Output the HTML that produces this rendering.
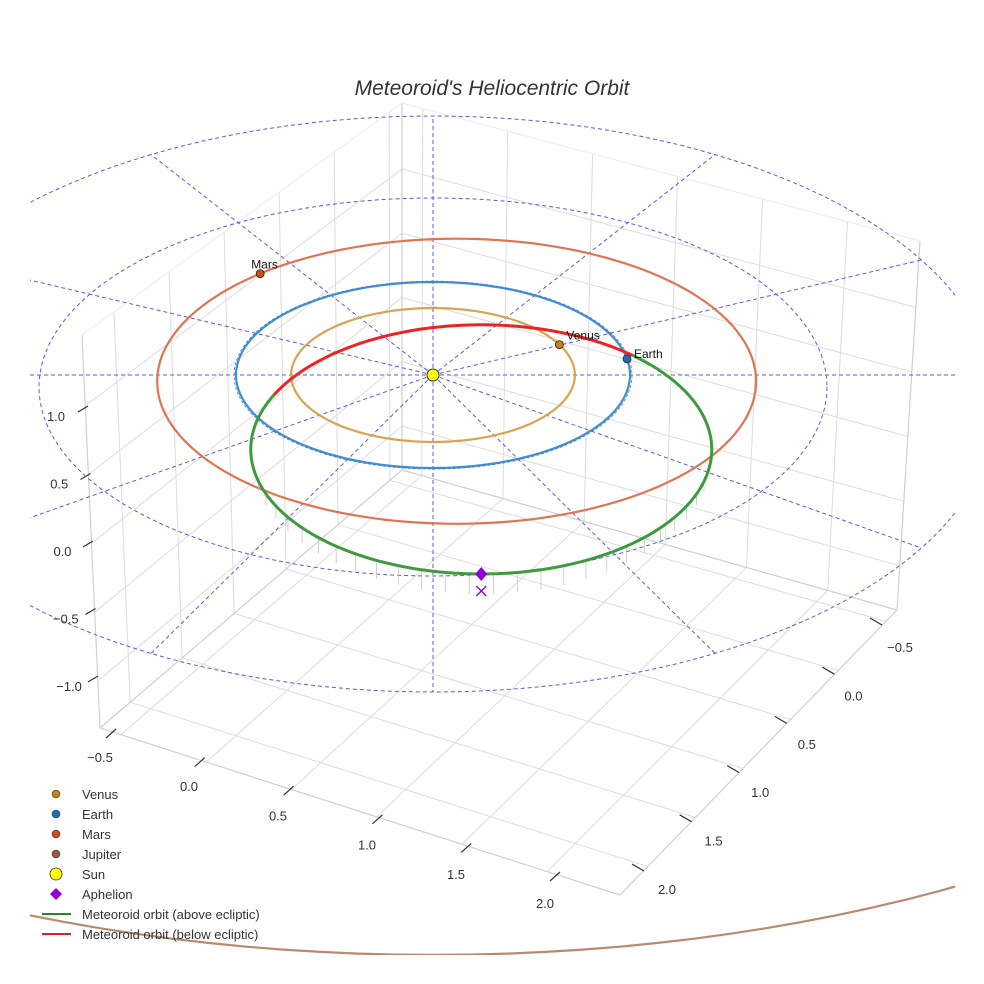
<!DOCTYPE html>
<html><head><meta charset="utf-8"><style>
html,body{margin:0;padding:0;background:#fff;}
svg{display:block;font-family:"Liberation Sans",sans-serif;}
</style></head><body>
<svg id="chart" width="984" height="984" viewBox="0 0 984 984">
<defs><clipPath id="clip"><rect x="30" y="0" width="925" height="955"/></clipPath></defs>
<text x="492" y="95" text-anchor="middle" font-size="21" font-style="italic" fill="#333">Meteoroid's Heliocentric Orbit</text>
<g id="box"></g>
<g id="ecl" clip-path="url(#clip)"></g>
<g id="orbits" clip-path="url(#clip)"></g>
<g id="marks"></g>
<g id="legend"></g>
</svg>
<script>
// ---- data ----
const xTicks = [-0.5, 0.0, 0.5, 1.0, 1.5, 2.0];
const yTicks = [-0.5, 0.0, 0.5, 1.0, 1.5, 2.0];
const zTicks = [-1.0, -0.5, 0.0, 0.5, 1.0];
const planetNames = ["Venus", "Earth", "Mars", "Jupiter"];
const planetRadiiAU = [0.72, 1.0, 1.52, 5.2];
const planetCenterShiftAU = [0, 0, 0.12, 0];
const planetAnglesDeg = [-27, -10, 229, 0];
const planetColors = ["#c9801a", "#1f6fb0", "#cc4a1c", "#9a5a3a"];
const orbitColors = ["#d6a552", "#3f8fd0", "#e07452", "#bb8a6e"];
const gridRadiiAU = [2, 3];
const radialAnglesDeg = [0, 30, 60, 90, 120, 150, 180, 210, 240, 270, 300, 330];
const meteorCenterAU = [0.245, 0.8];
const meteorAxesAU = [1.17, 1.34];
const belowRangeDeg = [206, 311];
const aphelionDeg = 90;

const NS = "http://www.w3.org/2000/svg";
function mk(parent, tag, attrs) { const e = document.createElementNS(NS, tag); for (const k in attrs) e.setAttribute(k, attrs[k]); parent.appendChild(e); return e; }
const box = document.getElementById('box'), ecl = document.getElementById('ecl'), orb = document.getElementById('orbits'), marks = document.getElementById('marks'), leg = document.getElementById('legend');

// ---- box / panes ----
function bil(c00, c10, c01, c11, u, v) {
  const a = [c00[0] + (c10[0] - c00[0]) * u, c00[1] + (c10[1] - c00[1]) * u];
  const b = [c01[0] + (c11[0] - c01[0]) * u, c01[1] + (c11[1] - c01[1]) * u];
  return [a[0] + (b[0] - a[0]) * v, a[1] + (b[1] - a[1]) * v];
}
const L = [100, 728], F = [620, 895], R = [897, 610], B = [402, 470];
const Lt = [82, 335], Bt = [402, 103], Rt = [920, 241];
const fx = x => 0.04 + (x + 0.5) / 0.5 * 0.164;
const fy = y => 0.1 + (2 - y) / 0.5 * 0.172;
const fz = z => 0.12 + (z + 1) / 0.5 * 0.175;
function line(p, q, col, w, name) {
  const l = mk(box, 'line', { x1: p[0], y1: p[1], x2: q[0], y2: q[1], stroke: col, 'stroke-width': w });
  
  
}
xTicks.forEach(x => { const u = fx(x); line(bil(L, F, B, R, u, 0), bil(L, F, B, R, u, 1), '#dcdcdc', 1, 'floor-grid-x'); });
yTicks.forEach(y => { const v = fy(y); line(bil(L, F, B, R, 0, v), bil(L, F, B, R, 1, v), '#dcdcdc', 1, 'floor-grid-y'); });
xTicks.forEach(x => { const u = fx(x); line(bil(B, R, Bt, Rt, u, 0), bil(B, R, Bt, Rt, u, 1), '#dcdcdc', 1, 'wall-grid-x'); });
zTicks.forEach(z => { const w = fz(z); line(bil(B, R, Bt, Rt, 0, w), bil(B, R, Bt, Rt, 1, w), '#dcdcdc', 1, 'wall-grid-z'); });
yTicks.forEach(y => { const v = 1 - fy(y); line(bil(L, B, Lt, Bt, 1 - v, 0), bil(L, B, Lt, Bt, 1 - v, 1), '#dcdcdc', 1, 'wall-grid-y'); });
zTicks.forEach(z => { const w = fz(z); line(bil(L, B, Lt, Bt, 0, w), bil(L, B, Lt, Bt, 1, w), '#dcdcdc', 1, 'wall-grid-z'); });
[[L, F], [F, R], [L, B], [B, R], [L, Lt], [B, Bt], [R, Rt]].forEach(e => line(e[0], e[1], '#cfcfcf', 1.2, 'box-edge'));
[[Lt, Bt], [Bt, Rt]].forEach(e => line(e[0], e[1], '#ececec', 1, 'box-top-edge'));

// ---- tick labels ----
function lerp(p, q, t) { return [p[0] + (q[0] - p[0]) * t, p[1] + (q[1] - p[1]) * t]; }
function tickLabel(pos, txt, name) {
  const t = mk(box, 'text', { x: pos[0], y: pos[1] + 5, 'text-anchor': 'middle', 'font-size': 13, fill: '#333' });
  t.textContent = txt.replace('-', '\u2212');
  
  
}
xTicks.forEach(x => { const t = (x + 0.5) / 2.5; const p = lerp([100, 757], [545, 903], t); tickLabel(p, x.toFixed(1), 'x-tick-label');
  const m = lerp([112, 733], [556, 876], t); line([m[0] - 6, m[1] + 5], [m[0] + 4, m[1] - 4], '#333', 1.2, 'x-tick-mark'); });
yTicks.forEach(y => { const t = (2 - y) / 2.5; const p = lerp([667, 889], [900, 647], t); tickLabel(p, y.toFixed(1), 'y-tick-label');
  const m = lerp([640, 868], [878, 622], t); line([m[0] - 8, m[1] - 4], [m[0] + 4, m[1] + 3], '#333', 1.2, 'y-tick-mark'); });
zTicks.forEach(z => { const t = (z + 1) / 2; const p = lerp([69, 686], [56, 416], t); tickLabel(p, z.toFixed(1), 'z-tick-label');
  const m = lerp([92, 679], [82, 409], t); line([m[0] - 4, m[1] + 3], [m[0] + 6, m[1] - 3], '#333', 1.2, 'z-tick-mark'); });

// ---- ecliptic projection ----
const SX = 433, SY = 375;
// calibration: [radius, px per AU x, px per AU y, centre y shift px]
const calib = [[0, 197, 93, 0], [1, 197, 93, 0], [2, 197, 94.5, 12], [3, 188, 96, 29], [5.2, 207, 104.6, 36]];
function proj(r, deg, shift) {
  let c = calib[calib.length - 1];
  for (let i = 0; i < calib.length - 1; i++) { const a = calib[i], b = calib[i + 1];
    if (r >= a[0] && r <= b[0]) { const t = (r - a[0]) / (b[0] - a[0]); c = a.map((v, k) => v + (b[k] - v) * t); break; } }
  const th = deg * Math.PI / 180;
  return [SX + c[1] * ((shift || 0) + r * Math.cos(th)), SY + c[3] + c[2] * r * Math.sin(th)];
}
function circlePath(r, shift) { let d = ''; for (let a = 0; a <= 360; a += 2) { const p = proj(r, a, shift); d += (a ? 'L' : 'M') + p[0].toFixed(1) + ',' + p[1].toFixed(1); } return d; }
gridRadiiAU.forEach(r => { const p = mk(ecl, 'path', { d: circlePath(r), fill: 'none', stroke: '#5a5ae0', 'stroke-width': 1, 'stroke-dasharray': '4,3' });
    });
radialAnglesDeg.forEach(a => { const rr = gridRadiiAU[gridRadiiAU.length - 1] * (a % 180 === 0 ? 1.7 : 1); const q = proj(rr, a);
  const q2 = a % 180 === 0 ? [q[0], SY] : q;
  const l = mk(ecl, 'line', { x1: SX, y1: SY, x2: q2[0], y2: q2[1], stroke: '#5a5ae0', 'stroke-width': 1, 'stroke-dasharray': '4,3' });
    });

planetRadiiAU.forEach((r, i) => {
  const p = mk(orb, 'path', { d: circlePath(r, planetCenterShiftAU[i]), fill: 'none', stroke: orbitColors[i], 'stroke-width': 2.2 });
   
});
{ const p = mk(orb, 'path', { d: circlePath(planetRadiiAU[1] * 1.01), fill: 'none', stroke: '#4a7ad0', 'stroke-width': 0.8, 'stroke-dasharray': '3,2' });
    }

// meteoroid orbit
function mpt(deg) { const t = deg * Math.PI / 180;
  return [SX + 197 * (meteorCenterAU[0] + meteorAxesAU[0] * Math.cos(t)), SY + 93 * (meteorCenterAU[1] + meteorAxesAU[1] * Math.sin(t))]; }
function arc(a0, a1) { let d = ''; for (let a = a0; a <= a1 + 0.001; a += 1) { const p = mpt(a); d += (a === a0 ? 'M' : 'L') + p[0].toFixed(1) + ',' + p[1].toFixed(1); } return d; }
for (let a = 15; a <= 170; a += 6) { const p = mpt(a); const len = 6 + 14 * Math.sin(a * Math.PI / 180);
  const l = mk(orb, 'line', { x1: p[0], y1: p[1], x2: p[0], y2: p[1] + len, stroke: '#c4c4c4', 'stroke-width': 0.8 });
    }
{ const g = mk(orb, 'path', { d: arc(belowRangeDeg[1], 360 + belowRangeDeg[0]), fill: 'none', stroke: '#3d9a3d', 'stroke-width': 3 });
   
  const r = mk(orb, 'path', { d: arc(belowRangeDeg[0], belowRangeDeg[1]), fill: 'none', stroke: '#ee2222', 'stroke-width': 3 });
    }

// markers
planetRadiiAU.forEach((r, i) => { if (i === 3) return; const p = proj(r, planetAnglesDeg[i], planetCenterShiftAU[i]);
  const c = mk(marks, 'circle', { cx: p[0], cy: p[1], r: 4, fill: planetColors[i], stroke: '#222', 'stroke-width': 0.8 });
   
  const t = mk(marks, 'text', { x: p[0] + (i === 2 ? -9 : 7), y: p[1] - (i === 1 ? 1 : 5), 'font-size': 12, fill: '#111' });
  t.textContent = planetNames[i];
    });
{ const s = mk(marks, 'circle', { cx: SX, cy: SY, r: 6, fill: '#ffff00', stroke: '#333', 'stroke-width': 1 });
   
  const ap = mpt(aphelionDeg);
  const d = mk(marks, 'path', { d: `M${ap[0]},${ap[1] - 7}L${ap[0] + 6},${ap[1]}L${ap[0]},${ap[1] + 7}L${ap[0] - 6},${ap[1]}Z`, fill: '#9400d3' });
   
  const x = mk(marks, 'path', { d: `M${ap[0] - 5},${ap[1] + 12}L${ap[0] + 5},${ap[1] + 22}M${ap[0] + 5},${ap[1] + 12}L${ap[0] - 5},${ap[1] + 22}`, stroke: '#9400d3', 'stroke-width': 1.3 });
    }

// legend
const legLabels = ["Venus", "Earth", "Mars", "Jupiter", "Sun", "Aphelion", "Meteoroid orbit (above ecliptic)", "Meteoroid orbit (below ecliptic)"];
legLabels.forEach((lab, i) => {
  const y = 794 + i * 20;
  let m;
  if (i < 4) m = mk(leg, 'circle', { cx: 56, cy: y, r: 4, fill: planetColors[i], stroke: '#333', 'stroke-width': 0.6 });
  else if (i === 4) m = mk(leg, 'circle', { cx: 56, cy: y, r: 6, fill: '#ffff00', stroke: '#333', 'stroke-width': 0.8 });
  else if (i === 5) m = mk(leg, 'path', { d: `M56,${y - 6}L62,${y}L56,${y + 6}L50,${y}Z`, fill: '#9400d3' });
  else m = mk(leg, 'line', { x1: 42, y1: y, x2: 71, y2: y, stroke: i === 6 ? '#228b22' : '#e02020', 'stroke-width': 2 });
   
  const t = mk(leg, 'text', { x: 82, y: y + 5, 'font-size': 13, fill: '#333' });
  t.textContent = lab;
   
});
</script>
</body></html>
